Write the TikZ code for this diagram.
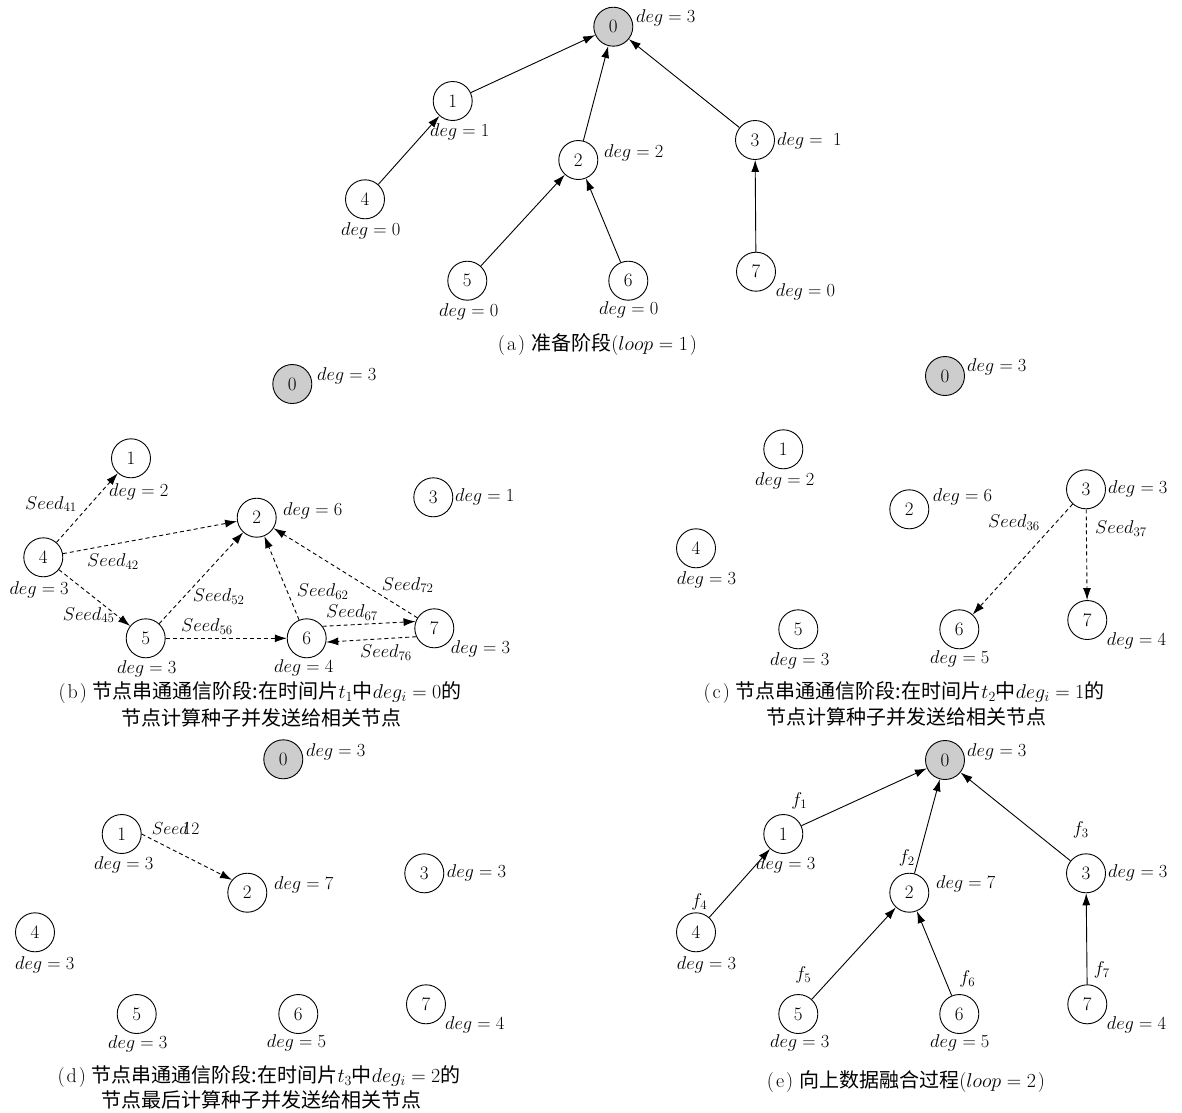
\RequirePackage{fix-cm}
\documentclass[tikz,border=0pt]{standalone}
\usepackage{fontspec}
\newfontfamily\cjk{Noto Sans CJK SC}
\usetikzlibrary{arrows.meta}
\definecolor{nodegray}{RGB}{205,205,205}
\newcommand{\plab}[1]{(\kern2pt#1\kern2pt)\kern6pt}
\tikzset{
  nd/.style={circle,draw,line width=0.9pt,minimum size=39pt,inner sep=0pt,font=\fontsize{19}{19}\selectfont},
  root/.style={nd,fill=nodegray},
  lbl/.style={anchor=west,inner sep=0pt,font=\fontsize{18.5}{18.5}\selectfont},
  flbl/.style={inner sep=0pt,font=\fontsize{18.5}{18.5}\selectfont},
  arr/.style={line width=0.9pt,-{Latex[length=12pt,width=8pt]}},
  darr/.style={arr,dash pattern=on 4pt off 3pt},
  captxt/.style={inner sep=0pt,font=\fontsize{20}{20}\selectfont},
}
\begin{document}
\begin{tikzpicture}[x=1pt,y=-1pt]
\useasboundingbox (0,0) rectangle (1182,1112);
% ---------------- (a)
\node[root] (a0) at (613.3,26.7) {0};
\node[nd] (a1) at (452.7,101) {1};
\node[nd] (a2) at (578.3,160) {2};
\node[nd] (a3) at (755,140) {3};
\node[nd] (a4) at (365,199.3) {4};
\node[nd] (a5) at (467.3,280.7) {5};
\node[nd] (a6) at (628.3,280.7) {6};
\node[nd] (a7) at (756,271.7) {7};
\node[lbl] (la0) at (636,18) {$deg=3$};
\node[lbl] (la1) at (430,132) {$deg=1$};
\node[lbl] (la2) at (604,153) {$deg=2$};
\node[lbl] (la3) at (777,141) {$deg=\;1$};
\node[lbl] (la4) at (341,231) {$deg=0$};
\node[lbl] (la5) at (439,312) {$deg=0$};
\node[lbl] (la6) at (599,310) {$deg=0$};
\node[lbl] (la7) at (775.7,291.7) {$deg=0$};
\draw[arr] (a1) -- (a0);
\draw[arr] (a2) -- (a0);
\draw[arr] (a3) -- (a0);
\draw[arr] (a4) -- (a1);
\draw[arr] (a5) -- (a2);
\draw[arr] (a6) -- (a2);
\draw[arr] (a7) -- (a3);
\node[captxt] (capa) at (597.5,345) {\plab{a}{\cjk 准备阶段}($loop=1$\kern2pt)};
% ---------------- (b)
\node[root] (b0) at (292.3,384) {0};
\node[nd] (b1) at (131,458.3) {1};
\node[nd] (b2) at (256.7,517.7) {2};
\node[nd] (b3) at (433.3,497.3) {3};
\node[nd] (b4) at (43.3,557.3) {4};
\node[nd] (b5) at (145.7,638.3) {5};
\node[nd] (b6) at (306.7,638.3) {6};
\node[nd] (b7) at (434.3,628.3) {7};
\node[lbl] (lb0) at (317,376) {$deg=3$};
\node[lbl] (lb1) at (109,491.7) {$deg=2$};
\node[lbl] (lb2) at (283,510.7) {$deg=6$};
\node[lbl] (lb3) at (455,497.3) {$deg=1$};
\node[lbl] (lb4) at (9.3,590) {$deg=3$};
\node[lbl] (lb5) at (117,669.3) {$deg=3$};
\node[lbl] (lb6) at (274,668.3) {$deg=4$};
\node[lbl] (lb7) at (450.7,649.3) {$deg=3$};
\draw[darr] (b4) -- (b1);
\draw[darr] (b4) -- (b2);
\draw[darr] (b4) -- (b5);
\draw[darr] (b5) -- (b2);
\draw[darr] (b5) -- (b6);
\draw[darr] (b6) -- (b2);
\draw[darr] (b7) -- (b2);
\draw[darr] (b6.37) -- (b7.160);
\draw[darr] (b7.205) -- (b6.-11);
\node[lbl] (s41) at (25,504) {$Seed_{41}$};
\node[lbl] (s42) at (87,561.7) {$Seed_{42}$};
\node[lbl] (s45) at (62.7,615) {$Seed_{45}$};
\node[lbl] (s52) at (192.7,596.7) {$Seed_{52}$};
\node[lbl] (s56) at (181,626.7) {$Seed_{56}$};
\node[lbl] (s62) at (296.7,591.7) {$Seed_{62}$};
\node[lbl] (s67) at (326,612.3) {$Seed_{67}$};
\node[lbl] (s72) at (381.7,585) {$Seed_{72}$};
\node[lbl] (s76) at (360,652.3) {$Seed_{76}$};
\node[captxt] (capb1) at (260,693) {\plab{b}{\cjk 节点串通通信阶段:在时间片}$t_1${\cjk 中}$deg_i=0${\cjk 的}};
\node[captxt] (capb2) at (261,718) {\cjk 节点计算种子并发送给相关节点};
% ---------------- (c)
\node[root] (c0) at (945,376) {0};
\node[nd] (c1) at (783.3,449.3) {1};
\node[nd] (c2) at (909.3,509.3) {2};
\node[nd] (c3) at (1086,489.3) {3};
\node[nd] (c4) at (696,548.3) {4};
\node[nd] (c5) at (798.3,629.3) {5};
\node[nd] (c6) at (959.3,629.3) {6};
\node[nd] (c7) at (1087.3,620) {7};
\node[lbl] (lc0) at (967,366.7) {$deg=3$};
\node[lbl] (lc1) at (755,480.7) {$deg=2$};
\node[lbl] (lc2) at (932.7,497.3) {$deg=6$};
\node[lbl] (lc3) at (1108,489.3) {$deg=3$};
\node[lbl] (lc4) at (676.7,580) {$deg=3$};
\node[lbl] (lc5) at (770,660.7) {$deg=3$};
\node[lbl] (lc6) at (930,659.3) {$deg=5$};
\node[lbl] (lc7) at (1106.7,640.7) {$deg=4$};
\draw[darr] (c3) -- (c6);
\draw[darr] (c3) -- (c7);
\node[lbl] (s36) at (988,522.7) {$Seed_{36}$};
\node[lbl] (s37) at (1095,528.3) {$Seed_{37}$};
\node[captxt] (capc1) at (904,693) {\plab{c}{\cjk 节点串通通信阶段:在时间片}$t_2${\cjk 中}$deg_i=1${\cjk 的}};
\node[captxt] (capc2) at (906,717) {\cjk 节点计算种子并发送给相关节点};
% ---------------- (d)
\node[root] (d0) at (283.3,759.3) {0};
\node[nd] (d1) at (121.7,834) {1};
\node[nd] (d2) at (247.3,892.7) {2};
\node[nd] (d3) at (424.3,873.3) {3};
\node[nd] (d4) at (35,932.3) {4};
\node[nd] (d5) at (136.7,1014) {5};
\node[nd] (d6) at (298.3,1014) {6};
\node[nd] (d7) at (426,1004.3) {7};
\node[lbl] (ld0) at (306,751.7) {$deg=3$};
\node[lbl] (ld1) at (94,865) {$deg=3$};
\node[lbl] (ld2) at (274,885) {$deg=7$};
\node[lbl] (ld3) at (446.7,873.3) {$deg=3$};
\node[lbl] (ld4) at (15,965) {$deg=3$};
\node[lbl] (ld5) at (108,1044) {$deg=3$};
\node[lbl] (ld6) at (266.7,1042.7) {$deg=5$};
\node[lbl] (ld7) at (445,1025) {$deg=4$};
\draw[darr] (d1.0) -- (d2.140);
\node[lbl,font=\fontsize{17.5}{17.5}\selectfont] (s12) at (151.7,828) {$Seed$\kern-5pt$12$};
\node[captxt] (capd1) at (259,1077) {\plab{d}{\cjk 节点串通通信阶段:在时间片}$t_3${\cjk 中}$deg_i=2${\cjk 的}};
\node[captxt] (capd2) at (261,1100) {\cjk 节点最后计算种子并发送给相关节点};
% ---------------- (e)
\node[root] (e0) at (945,760) {0};
\node[nd] (e1) at (783.3,834) {1};
\node[nd] (e2) at (909.3,892.7) {2};
\node[nd] (e3) at (1086,873.3) {3};
\node[nd] (e4) at (696,932.3) {4};
\node[nd] (e5) at (798.3,1014) {5};
\node[nd] (e6) at (959.3,1014) {6};
\node[nd] (e7) at (1087.3,1004.3) {7};
\node[lbl] (le0) at (967,751.7) {$deg=3$};
\node[lbl] (le1) at (756,865) {$deg=3$};
\node[lbl] (le2) at (936,884) {$deg=7$};
\node[lbl] (le3) at (1108,873.3) {$deg=3$};
\node[lbl] (le4) at (676.7,965) {$deg=3$};
\node[lbl] (le5) at (770,1043.3) {$deg=3$};
\node[lbl] (le6) at (930,1042.7) {$deg=5$};
\node[lbl] (le7) at (1106.7,1025) {$deg=4$};
\draw[arr] (e1) -- (e0);
\draw[arr] (e2) -- (e0);
\draw[arr] (e3) -- (e0);
\draw[arr] (e4) -- (e1);
\draw[arr] (e5) -- (e2);
\draw[arr] (e6) -- (e2);
\draw[arr] (e7) -- (e3);
\node[flbl] (f1) at (799.3,800.7) {$f_1$};
\node[flbl] (f2) at (906.7,858.3) {$f_2$};
\node[flbl] (f3) at (1080.7,830) {$f_3$};
\node[flbl] (f4) at (699.3,901.7) {$f_4$};
\node[flbl] (f5) at (803.3,975) {$f_5$};
\node[flbl] (f6) at (967.3,979.3) {$f_6$};
\node[flbl] (f7) at (1101.7,970) {$f_7$};
\node[captxt] (cape) at (906,1082) {\plab{e}{\cjk 向上数据融合过程}($loop=2$\kern2pt)};
\end{tikzpicture}
\end{document}
